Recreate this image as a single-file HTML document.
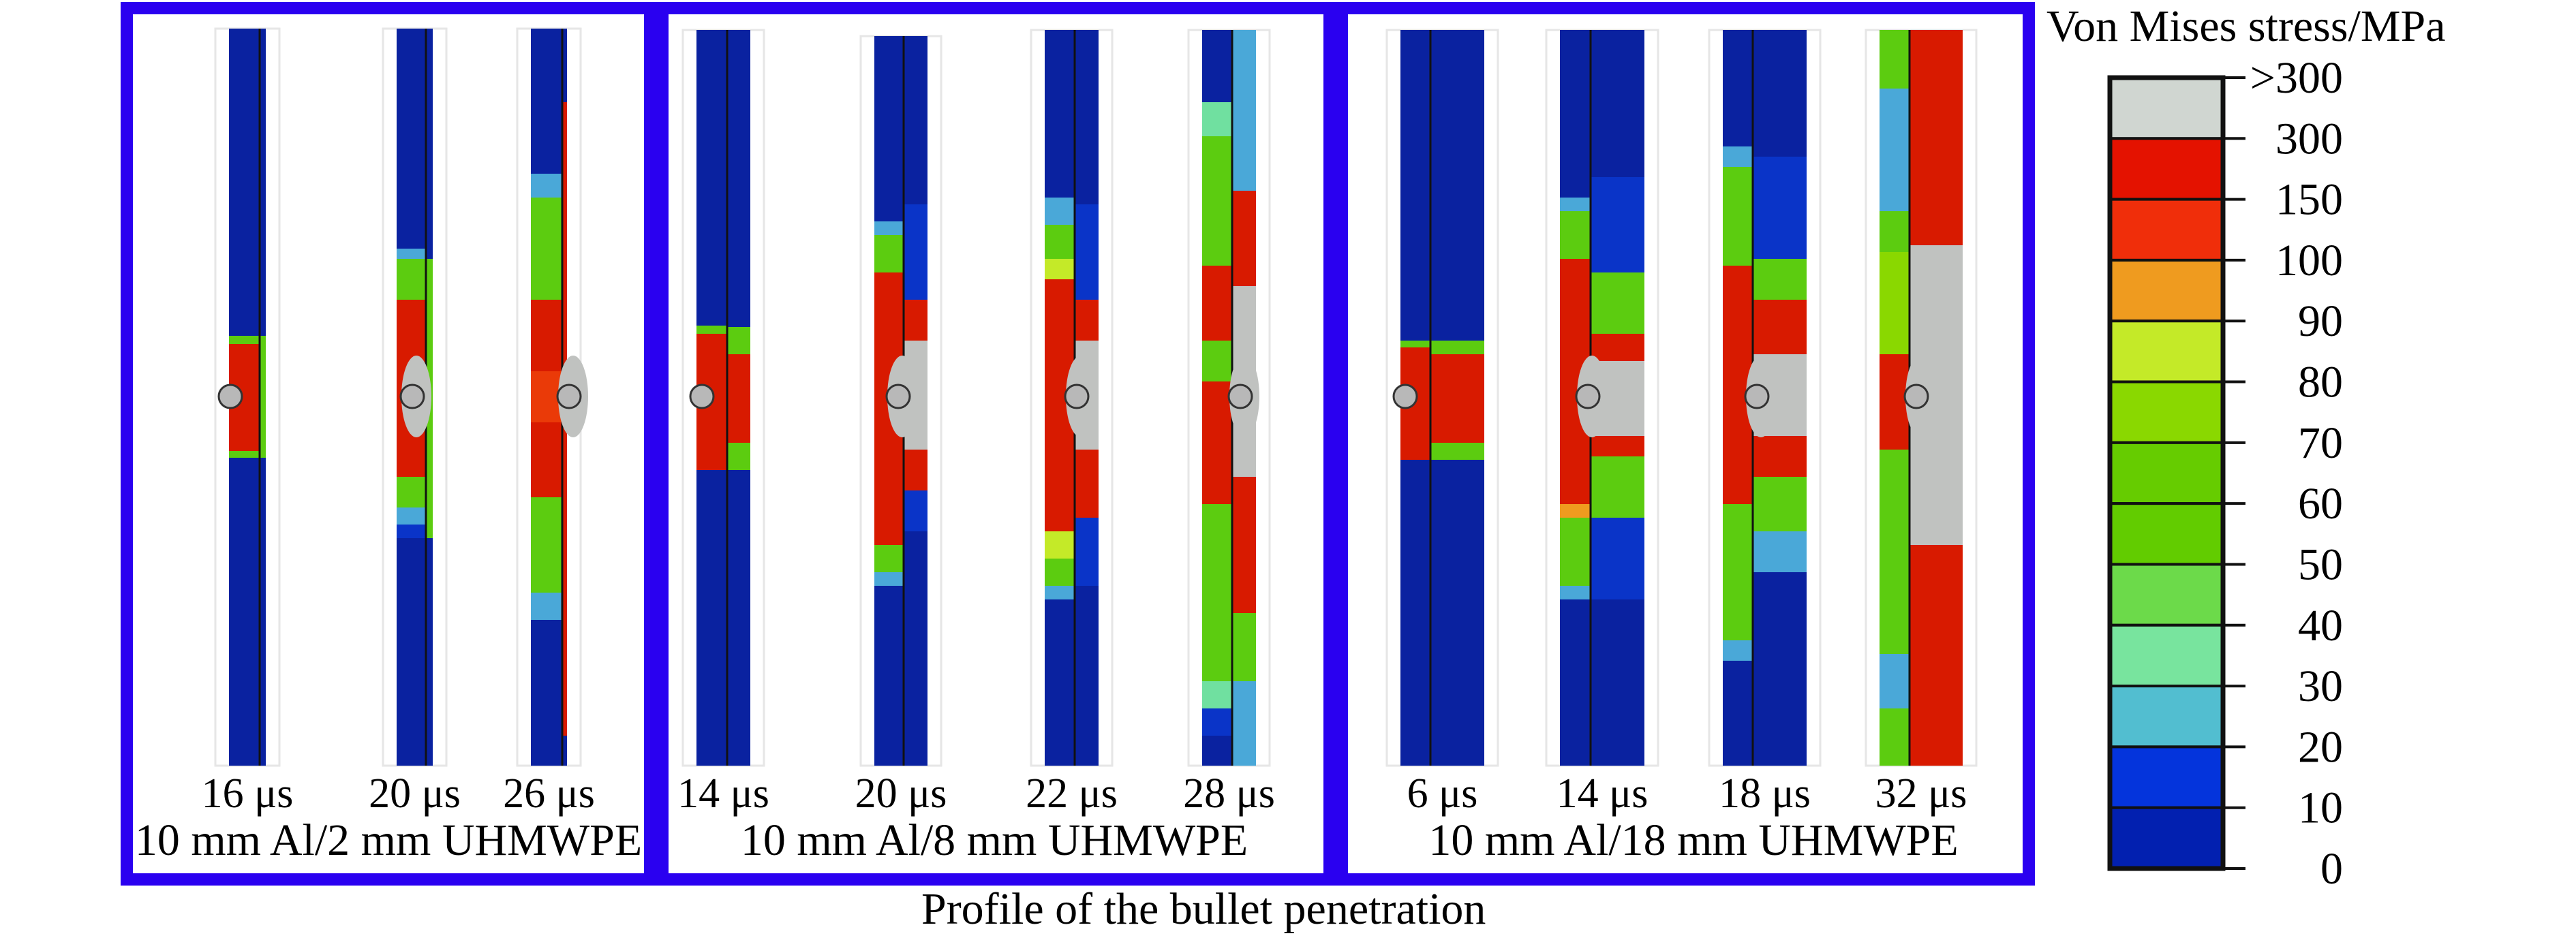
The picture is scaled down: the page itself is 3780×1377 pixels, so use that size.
<!DOCTYPE html>
<html><head><meta charset="utf-8">
<style>
html,body{margin:0;padding:0;background:#fff;}
svg{display:block;font-family:"Liberation Serif",serif;}
</style></head>
<body>
<svg id="fig" width="3780" height="1377" viewBox="0 0 3780 1377" xmlns="http://www.w3.org/2000/svg">
  <rect x="0" y="0" width="3780" height="1377" fill="#fff"/>
  <g id="boxes"></g>
  <g id="plates"></g>
  <g id="labels"></g>
  <g id="cbar"></g>
  <text x="1352" y="1356" font-size="66" fill="#000">Profile of the  bullet penetration</text>
</svg>
<script>
const NS='http://www.w3.org/2000/svg';
function mk(tag,attrs,parent){const e=document.createElementNS(NS,tag);for(const k in attrs)e.setAttribute(k,attrs[k]);parent.appendChild(e);return e;}

// Colorbar data
const cbLabels=['>300','300','150','100','90','80','70','60','50','40','30','20','10','0'];
const cbColors=['#d0d6d1','#e41200','#f02e0a','#ef9b1f','#c4ea28','#8ad800','#66cc00','#62cc00','#6cda4a','#78e49e','#52bed0','#0434dc','#0220b0'];

const C={bl:'#0a22a0',b2:'#0a34c8',lb:'#4aa8d8',cy:'#70e0a0',g:'#5ccc10',g2:'#8ad800',y:'#c4ea28',o:'#ef9b1f',r:'#d81a00',r2:'#ea3a08',gr:'#c0c2c0'};

const plateX=[336,582,779,1022,1283,1533,1764,2055,2289,2528,2758];
const plateW=[54,53,53,79,78,79,79,123,124,123,122];
const plateLine=[45,43,46,45,43,44,44,44,45,44,44];
const plateTop=[42,42,42,44,53,44,44,44,44,44,44];
const timeLabels=['16 μs','20 μs','26 μs','14 μs','20 μs','22 μs','28 μs','6 μs','14 μs','18 μs','32 μs'];
const bulletX=[338,605,835,1030,1318,1580,1820,2062,2330,2578,2812];
const leftBands=[
 [[493,505,'g'],[505,662,'r'],[662,672,'g']],
 [[365,380,'lb'],[380,440,'g'],[440,700,'r'],[700,745,'g'],[745,770,'lb'],[770,790,'b2']],
 [[255,290,'lb'],[290,440,'g'],[440,545,'r'],[545,620,'r2'],[620,730,'r'],[730,870,'g'],[870,910,'lb']],
 [[478,490,'g'],[490,690,'r']],
 [[325,345,'lb'],[345,400,'g'],[400,800,'r'],[800,840,'g'],[840,860,'lb']],
 [[290,330,'lb'],[330,380,'g'],[380,410,'y'],[410,780,'r'],[780,820,'y'],[820,860,'g'],[860,880,'lb']],
 [[150,200,'cy'],[200,390,'g'],[390,500,'r'],[500,560,'g'],[560,740,'r'],[740,1000,'g'],[1000,1040,'cy'],[1040,1080,'b2']],
 [[500,510,'g'],[510,675,'r']],
 [[290,310,'lb'],[310,380,'g'],[380,740,'r'],[740,760,'o'],[760,860,'g'],[860,880,'lb']],
 [[215,245,'lb'],[245,390,'g'],[390,740,'r'],[740,940,'g'],[940,970,'lb']],
 [[44,130,'g'],[130,310,'lb'],[310,370,'g'],[370,520,'g2'],[520,660,'r'],[660,960,'g'],[960,1040,'lb'],[1040,1124,'g']]
];
const rightBands=[
 [[493,672,'g']],
 [[380,790,'g']],
 [[150,1080,'r']],
 [[480,520,'g'],[520,650,'r'],[650,690,'g']],
 [[300,440,'b2'],[440,500,'r'],[500,660,'gr'],[660,720,'r'],[720,780,'b2']],
 [[300,440,'b2'],[440,500,'r'],[500,660,'gr'],[660,760,'r'],[760,860,'b2']],
 [[44,280,'lb'],[280,420,'r'],[420,700,'gr'],[700,900,'r'],[900,1000,'g'],[1000,1124,'lb']],
 [[500,520,'g'],[520,650,'r'],[650,675,'g']],
 [[260,400,'b2'],[400,490,'g'],[490,530,'r'],[530,640,'gr'],[640,670,'r'],[670,760,'g'],[760,880,'b2']],
 [[230,380,'b2'],[380,440,'g'],[440,520,'r'],[520,640,'gr'],[640,700,'r'],[700,780,'g'],[780,840,'lb']],
 [[44,360,'r'],[360,800,'gr'],[800,1124,'r']]
];
const plateBottom=1124;
const bulletY=582;

const boxes=[[177,3,786,1297],[963,3,997,1297],[1960,3,1026,1297]];
const bg=document.getElementById('boxes');
boxes.forEach((b,i)=>{
  const r=mk('rect',{x:b[0]+9,y:b[1]+9,width:b[2]-18,height:b[3]-18,fill:'none',stroke:'#2a00f0','stroke-width':18},bg);
  
  
});

const pg=document.getElementById('plates');
plateX.forEach((x,i)=>{
  const g=mk('g',{},pg);
  
  
  const w=plateW[i],lx=x+plateLine[i],top=plateTop[i];
  mk('rect',{x:x-20,y:top,width:w+40,height:plateBottom-top,fill:'none',stroke:'#e6e6e6','stroke-width':3},g);
  mk('rect',{x:x,y:top,width:w,height:plateBottom-top,fill:C.bl},g);
  leftBands[i].forEach(b=>{
    const r=mk('rect',{x:x,y:b[0],width:lx-x,height:b[1]-b[0],fill:C[b[2]]},g);
    
    
  });
  rightBands[i].forEach(b=>{
    const r=mk('rect',{x:lx,y:b[0],width:x+w-lx,height:b[1]-b[0],fill:C[b[2]]},g);
    
    
  });
  mk('line',{x1:lx,y1:top,x2:lx,y2:plateBottom,stroke:'#111','stroke-width':3},g);
  if(i!==0&&i!==3&&i!==7){
    mk('ellipse',{cx:bulletX[i]+6,cy:bulletY,rx:22,ry:60,fill:'#c0c2c0'},g);
  }
  const c=mk('circle',{cx:bulletX[i],cy:bulletY,r:17,fill:'#b8b8b8',stroke:'#333','stroke-width':3},g);
  
  
  const t=mk('text',{x:x+w/2,y:1185,'font-size':62,'text-anchor':'middle',fill:'#000'},document.getElementById('labels'));
  t.textContent=timeLabels[i];
  
  
});

const subtitles=['10 mm Al/2 mm UHMWPE','10 mm Al/8 mm UHMWPE','10 mm Al/18 mm UHMWPE'];
const subX=[570,1459,2485];
subtitles.forEach((s,i)=>{
  const t=mk('text',{x:subX[i],y:1255,'font-size':66,'text-anchor':'middle',fill:'#000'},document.getElementById('labels'));
  t.textContent=s;
  
  
});

const cb=document.getElementById('cbar');
const cbX=3096,cbW=166,cbTop=114,cbBot=1275;
const seg=(cbBot-cbTop)/cbColors.length;
const ty=document.createElementNS(NS,'text');
ty.setAttribute('x',3003);ty.setAttribute('y',60);ty.setAttribute('font-size',66);
ty.textContent='Von Mises stress/MPa';


cb.appendChild(ty);
cbColors.forEach((c,i)=>{
  const r=mk('rect',{x:cbX,y:cbTop+i*seg,width:cbW,height:seg,fill:c,stroke:'#111','stroke-width':4},cb);
  
  
});
mk('rect',{x:cbX,y:cbTop,width:cbW,height:cbBot-cbTop,fill:'none',stroke:'#111','stroke-width':7},cb);
cbLabels.forEach((l,i)=>{
  const y=cbTop+i*seg;
  const tk=mk('line',{x1:cbX+cbW,y1:y,x2:3295,y2:y,stroke:'#111','stroke-width':4},cb);
  
  
  const t=mk('text',{x:3438,y:y+22,'font-size':66,'text-anchor':'end',fill:'#000'},cb);
  t.textContent=l;
  
  
});
</script>
</body></html>
